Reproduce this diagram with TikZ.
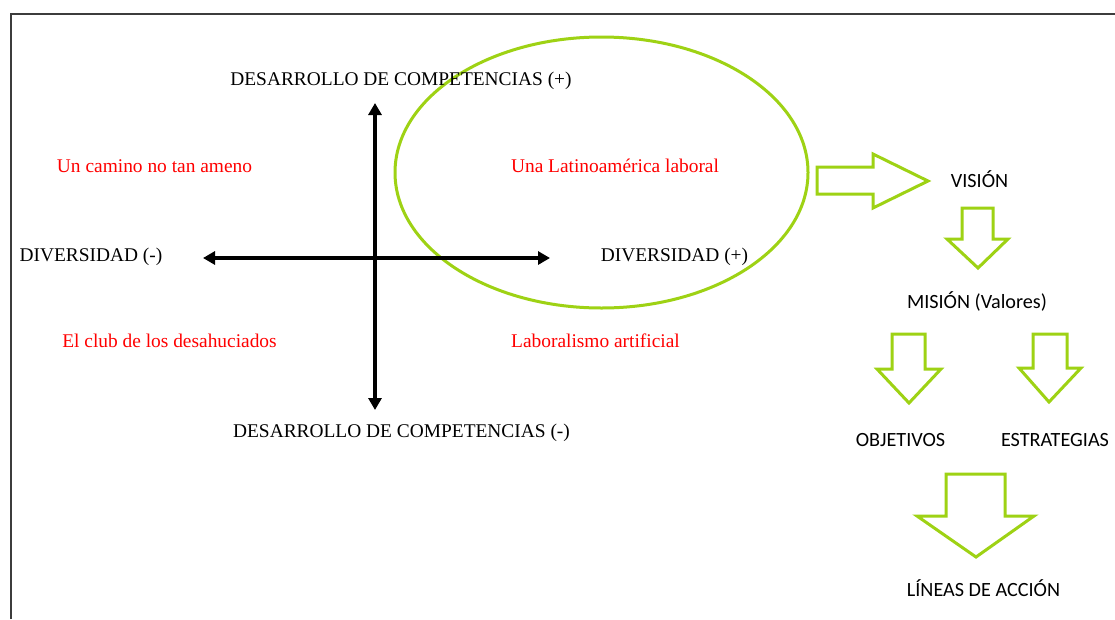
\documentclass[tikz,border=0pt]{standalone}
\usepackage{fontspec}
\setmainfont{Liberation Serif}
\newfontfamily\calib{Carlito}
\usetikzlibrary{arrows.meta}
\definecolor{lime}{RGB}{158,210,20}
\definecolor{framegray}{RGB}{60,60,60}
\tikzset{
  serif/.style={inner sep=0pt, anchor=base, font=\fontsize{19.4}{22}\selectfont, text=black},
  redtxt/.style={serif, text=red},
  sanstxt/.style={inner sep=0pt, anchor=base, font=\calib\fontsize{20.2}{23}\selectfont, text=black},
  axis/.style={line width=3.2pt, draw=black, {Triangle[width=13pt,length=12pt]}-{Triangle[width=13pt,length=12pt]}},
  blockarrow/.style={draw=lime, line width=3pt, line join=miter},
  ring/.style={draw=lime, line width=3pt}
}
\begin{document}
\begin{tikzpicture}[x=1pt,y=-1pt]
\useasboundingbox (0,0) rectangle (1115,619);
\fill[white] (0,0) rectangle (1115,619);
% frame
\draw[framegray, line width=1.5pt] (11,619) -- (11,14) -- (1115,14);

% ellipse
\draw[ring] (601.5,172.5) ellipse [x radius=206.5, y radius=135.5];

% axes
\coordinate (ytop) at (375,103);
\coordinate (ybot) at (375,410);
\coordinate (xleft) at (203,258);
\coordinate (xright) at (550,258);
\draw[axis] (ytop) -- (ybot);
\draw[axis] (xleft) -- (xright);

% axis labels
\node[serif] (dcplus) at (401,85) {DESARROLLO DE COMPETENCIAS (+)};
\node[serif] (dcminus) at (401.5,437) {DESARROLLO DE COMPETENCIAS (-)};
\node[serif] (divminus) at (91,261) {DIVERSIDAD (-)};
\node[serif] (divplus) at (674.5,261) {DIVERSIDAD (+)};

% quadrant labels
\node[redtxt] (q1) at (154.5,172) {Un camino no tan ameno};
\node[redtxt] (q2) at (615,172) {Una Latinoamérica laboral};
\node[redtxt] (q3) at (169.5,347) {El club de los desahuciados};
\node[redtxt] (q4) at (595.5,347) {Laboralismo artificial};

% right column labels
\node[sanstxt] (vision) at (979.5,187) {VISIÓN};
\node[sanstxt] (mision) at (977,308) {MISIÓN (Valores)};
\node[sanstxt] (objetivos) at (900.5,446) {OBJETIVOS};
\node[sanstxt] (estrategias) at (1055,446) {ESTRATEGIAS};
\node[sanstxt] (lineas) at (983.5,596) {LÍNEAS DE ACCIÓN};

% block arrows
\draw[blockarrow] (817,167) -- (873,167) -- (873,154) -- (928,181) -- (873,208) -- (873,194) -- (817,194) -- cycle;
\draw[blockarrow] (962,208) -- (993,208) -- (993,239) -- (1008,239) -- (978,268) -- (947,239) -- (962,239) -- cycle;
\draw[blockarrow] (892,334) -- (925,334) -- (925,369) -- (941,369) -- (909,403) -- (877,369) -- (892,369) -- cycle;
\draw[blockarrow] (1033,334) -- (1067,334) -- (1067,368) -- (1081,368) -- (1049,402) -- (1019,368) -- (1033,368) -- cycle;
\draw[blockarrow] (946,474) -- (1005,474) -- (1005,516) -- (1034,516) -- (976,557) -- (917,516) -- (946,516) -- cycle;
\end{tikzpicture}
\end{document}
